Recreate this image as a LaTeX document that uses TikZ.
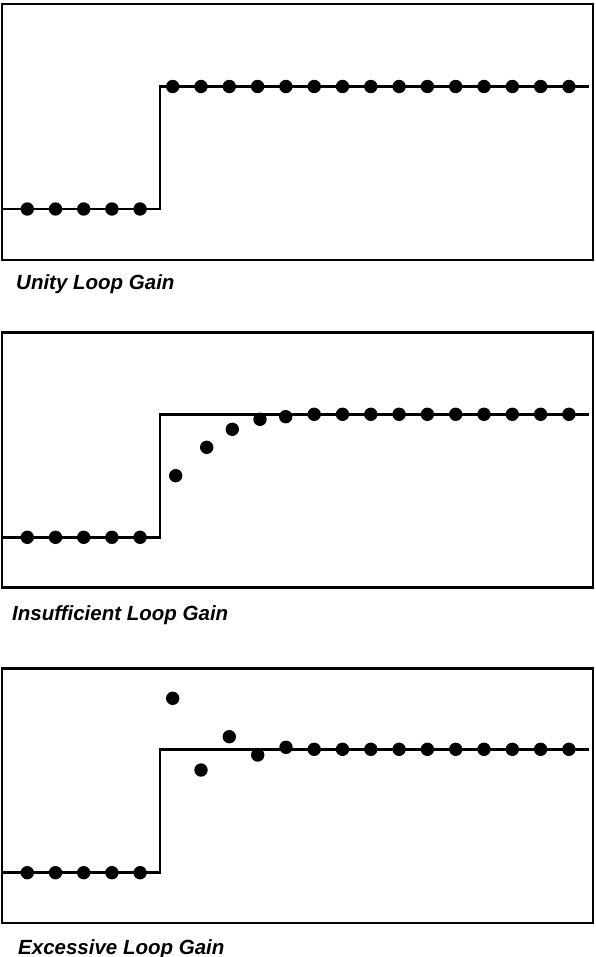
\documentclass[tikz,border=0pt]{standalone}
\usepackage{fontspec}
\setmainfont{Liberation Sans}
\usetikzlibrary{positioning}
\tikzset{frame/.style = {line width=2.9pt},
         response/.style = {line width=2.5pt},
         caption/.style = {anchor=base west, inner sep=0pt,
                           font=\fontsize{20.5}{24}\selectfont\bfseries\itshape}}
\newcommand{\sampledot}{circle (6.7pt)}

\begin{document}
\begin{tikzpicture}[x=1pt, y=-1pt]
      \useasboundingbox (0,0) rectangle (595,957);
      % unity loop gain
      \begin{scope}[shift={(0,4)}]
        \draw [frame] (2,0) rectangle (593,256);
        \draw [response] (3,205) -- (160,205) -- (160,82.5) -- (589,82.5);
        \foreach \i in {0,...,4} \fill (27.3+28.2*\i,205) \sampledot;
        \foreach \i in {0,...,14} \fill (172.7+28.3*\i,82.5) \sampledot;
        \node [caption] (unity) at (16,286) {Unity Loop Gain};
      \end{scope}
      % insufficient loop gain
      \begin{scope}[shift={(0,332.3)}]
        \draw [frame] (2,0) rectangle (593,255);
        \draw [response] (3,205) -- (160,205) -- (160,82) -- (589,82);
        \foreach \i in {0,...,4} \fill (27.3+28.2*\i,205) \sampledot;
        \foreach \x/\y in {175.7/143.4, 206.7/115, 232.3/97, 260/87, 285.7/84.4}
          \fill (\x,\y) \sampledot;
        \foreach \i in {5,...,14} \fill (172.7+28.3*\i,82) \sampledot;
        \node [caption] (insufficient) at (12,287.7) {Insufficient Loop Gain};
      \end{scope}
      % excessive loop gain
      \begin{scope}[shift={(0,668.3)}]
        \draw [frame] (2,0) rectangle (593,254.7);
        \draw [response] (3,204.4) -- (160,204.4) -- (160,81) -- (589,81);
        \foreach \i in {0,...,4} \fill (27.3+28.2*\i,204.4) \sampledot;
        \foreach \x/\y in {172.7/30, 201/101.7, 229.3/68.4, 257.7/86.7, 286/79}
          \fill (\x,\y) \sampledot;
        \foreach \i in {5,...,14} \fill (172.7+28.3*\i,81) \sampledot;
        \node [caption] (excessive) at (18,285.7) {Excessive Loop Gain};
      \end{scope}
    \end{tikzpicture}
\end{document}
